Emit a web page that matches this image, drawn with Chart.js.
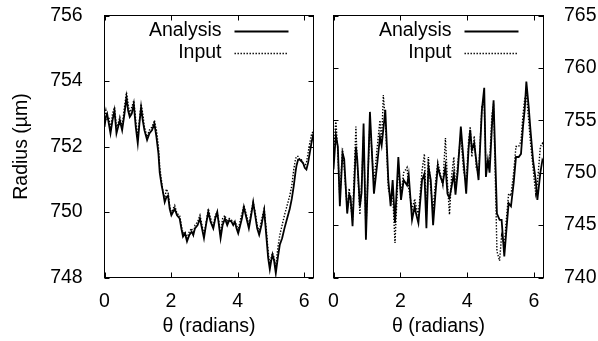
<!DOCTYPE html>
<html><head><meta charset="utf-8">
<script src="https://cdn.jsdelivr.net/npm/chart.js@4/dist/chart.umd.min.js"></script>
<style>
html,body{margin:0;padding:0;background:#fff;}
#wrap{position:relative;width:598px;height:341px;overflow:hidden;}
#c1{position:absolute;left:0;top:0;}
#c2{position:absolute;left:323px;top:0;}
</style></head><body>
<div id="wrap"><canvas id="c1" width="323" height="341"></canvas><canvas id="c2" width="275" height="341"></canvas></div>
<script>
// ---- data ----
const seriesLabels = ["Analysis", "Input"];
const xTickValues = [0, 2, 4, 6];
const leftYTicks = [748, 750, 752, 754, 756];
const rightYTicks = [740, 745, 750, 755, 760, 765];

const thetaLeft = [0.00,0.04,0.08,0.13,0.18,0.24,0.30,0.36,0.41,0.46,0.53,0.60,0.66,0.71,0.76,0.82,0.88,0.94,1.00,1.05,1.10,1.15,1.20,1.28,1.35,1.43,1.50,1.56,1.62,1.66,1.72,1.76,1.81,1.86,1.91,1.96,2.01,2.06,2.11,2.18,2.26,2.31,2.36,2.42,2.48,2.55,2.62,2.67,2.72,2.80,2.87,2.93,2.99,3.05,3.12,3.19,3.27,3.33,3.39,3.44,3.49,3.55,3.62,3.69,3.75,3.82,3.87,3.92,3.97,4.02,4.07,4.13,4.19,4.27,4.34,4.41,4.47,4.53,4.59,4.65,4.72,4.80,4.87,4.92,4.97,5.01,5.05,5.10,5.15,5.21,5.27,5.34,5.41,5.49,5.57,5.63,5.69,5.74,5.77,5.82,5.87,5.92,5.97,6.02,6.07,6.12,6.17,6.22,6.28];
const analysisLeft = [752.6,752.9,753.0,752.7,752.4,752.8,753.1,752.4,752.6,752.8,752.5,753.0,753.5,753.1,752.9,753.0,753.3,752.6,752.1,752.7,753.2,752.8,752.5,752.2,752.4,752.5,752.7,752.3,751.8,751.2,750.8,750.6,750.3,750.45,750.5,750.1,749.9,750.0,750.1,749.9,749.8,749.5,749.25,749.35,749.1,749.3,749.4,749.3,749.5,749.6,749.8,749.5,749.2,749.6,750.0,749.7,749.5,749.8,750.0,749.6,749.2,749.6,749.8,749.6,749.75,749.7,749.6,749.7,749.5,749.35,749.55,749.8,750.15,749.8,749.5,749.9,750.3,749.9,749.5,749.3,749.6,750.05,749.2,748.6,748.25,748.5,748.7,748.5,748.13,748.6,749.0,749.2,749.5,749.8,750.1,750.4,750.8,751.2,751.4,751.6,751.6,751.55,751.5,751.35,751.3,751.5,751.8,752.1,752.4];
const inputLeft = [752.9,753.1,752.8,752.9,752.5,753.0,753.2,752.6,752.7,752.9,752.6,753.2,753.65,753.3,753.0,753.2,753.4,752.8,752.3,752.8,753.3,753.0,752.6,752.3,752.5,752.6,752.8,752.5,752.0,751.4,750.9,750.6,750.4,750.7,750.6,750.2,749.95,750.1,750.2,749.95,749.9,749.6,749.35,749.4,749.2,749.4,749.5,749.3,749.6,749.7,749.9,749.6,749.3,749.65,750.1,749.8,749.55,749.9,750.0,749.7,749.3,749.8,749.9,749.7,749.8,749.75,749.7,749.7,749.6,749.45,749.7,749.95,750.2,749.9,749.6,750.0,750.3,750.0,749.6,749.4,749.75,750.1,749.4,748.8,748.35,748.6,748.75,748.6,748.3,748.9,749.3,749.6,749.9,750.2,750.5,750.8,751.3,751.6,751.7,751.7,751.6,751.6,751.45,751.4,751.5,751.8,752.1,752.35,752.5];

const thetaRight = [0.00,0.07,0.13,0.19,0.27,0.32,0.41,0.47,0.51,0.57,0.67,0.71,0.79,0.84,0.90,0.97,1.09,1.21,1.31,1.39,1.44,1.49,1.55,1.64,1.71,1.77,1.84,1.94,2.02,2.10,2.20,2.25,2.35,2.43,2.47,2.54,2.65,2.72,2.78,2.84,2.91,2.98,3.05,3.12,3.19,3.27,3.35,3.41,3.47,3.53,3.60,3.65,3.72,3.81,3.89,3.97,4.04,4.09,4.14,4.21,4.27,4.34,4.44,4.51,4.56,4.62,4.67,4.74,4.79,4.89,4.97,5.03,5.11,5.17,5.24,5.31,5.39,5.46,5.54,5.61,5.67,5.72,5.77,5.84,5.89,5.97,6.05,6.10,6.19,6.25,6.28];
const analysisRight = [750.3,753.6,752.5,746.8,751.9,751.3,746.1,747.9,747.7,744.9,752.5,751.3,746.8,748.1,754.7,743.6,755.8,748.0,750.9,753.4,752.6,754.1,756.0,749.3,746.8,749.3,745.2,751.5,747.4,749.3,748.8,749.8,745.5,746.8,746.1,745.2,749.3,749.9,744.7,750.6,749.3,745.0,748.0,750.6,749.7,749.0,750.6,748.0,747.6,748.6,749.9,747.9,750.2,754.4,751.2,748.0,752.2,754.1,752.2,752.8,751.2,749.3,756.0,758.1,749.6,751.2,750.0,754.4,756.9,746.1,745.5,745.5,742.0,744.4,747.1,746.8,749.0,751.5,751.5,751.8,754.4,756.0,758.7,756.3,754.2,751.2,749.3,747.4,750.0,751.2,751.0];
const inputRight = [751.5,755.0,752.0,747.5,752.3,750.5,746.5,748.5,747.0,745.5,754.4,751.0,746.0,749.0,753.5,744.5,754.8,749.0,752.5,755.0,753.0,757.4,755.0,748.5,747.5,748.0,743.3,750.5,748.0,750.0,750.5,748.5,746.5,747.5,746.8,746.0,750.2,751.8,746.0,751.5,748.5,746.5,749.0,751.0,750.0,748.8,753.3,749.0,746.0,749.5,751.5,748.5,751.0,753.5,750.2,749.0,753.0,754.4,751.5,753.5,750.5,750.0,756.3,756.5,750.5,750.5,751.0,755.5,756.6,742.5,741.6,744.0,743.0,745.5,748.0,747.8,750.0,752.5,752.5,753.0,755.5,757.0,757.5,755.0,753.0,750.5,748.0,749.0,752.5,752.8,752.5];

// ---- helpers ----
const FONT = '"Liberation Sans", Arial, sans-serif';
const FS = 19.5;
const toPts = (xs, ys) => xs.map((x, i) => ({x: x, y: ys[i]}));

const framePlugin = {
  id: 'gpFrame',
  afterDraw(chart) {
    const ctx = chart.ctx, a = chart.chartArea, L = 5;
    const xs = chart.scales.x, ys = chart.scales.y;
    ctx.save();
    ctx.strokeStyle = '#000'; ctx.lineWidth = 1; ctx.setLineDash([]);
    ctx.beginPath();
    xs.ticks.forEach(t => {
      const px = Math.round(xs.getPixelForValue(t.value)) + 0.5;
      ctx.moveTo(px, a.bottom); ctx.lineTo(px, a.bottom - L);
      ctx.moveTo(px, a.top); ctx.lineTo(px, a.top + L);
    });
    ys.ticks.forEach(t => {
      const py = Math.round(ys.getPixelForValue(t.value)) + 0.5;
      ctx.moveTo(a.left, py); ctx.lineTo(a.left + L, py);
      ctx.moveTo(a.right, py); ctx.lineTo(a.right - L, py);
    });
    ctx.stroke();
    ctx.strokeRect(a.left, a.top, a.right - a.left, a.bottom - a.top);
    // legend (gnuplot style: right-aligned text, sample on the right)
    ctx.font = FS + 'px ' + FONT;
    ctx.textAlign = 'right'; ctx.textBaseline = 'middle';
    chart.data.datasets.forEach((ds, i) => {
      const y = a.top + 15.5 + i * 21.7;
      ctx.fillStyle = '#000';
      ctx.setLineDash([]);
      ctx.fillText(ds.label, a.right - 92, y);
      ctx.beginPath();
      ctx.setLineDash(ds.borderDash || []);
      ctx.lineWidth = ds.borderWidth;
      ctx.strokeStyle = ds.borderColor;
      ctx.moveTo(a.right - 79, Math.round(y) + 0.5);
      ctx.lineTo(a.right - 25, Math.round(y) + 0.5);
      ctx.stroke();
    });
    ctx.restore();
  }
};

function makeDatasets(th, an, inp) {
  return [
    {label: seriesLabels[0], data: toPts(th, an), borderColor: '#000', borderWidth: 1.8, pointRadius: 0, tension: 0, fill: false},
    {label: seriesLabels[1], data: toPts(th, inp), borderColor: '#000', borderWidth: 1.4, borderDash: [1.4, 1.6], pointRadius: 0, tension: 0, fill: false}
  ];
}

function xScale() {
  return {
    type: 'linear', min: 0, max: 2 * Math.PI,
    afterBuildTicks: s => { s.ticks = xTickValues.map(v => ({value: v})); },
    ticks: {color: '#000', font: {family: FONT, size: FS}, padding: 4, maxRotation: 0, autoSkip: false, callback: v => String(v)},
    grid: {display: false}, border: {display: false},
    title: {display: true, text: 'θ (radians)', color: '#000', font: {family: FONT, size: FS}, padding: {top: 0, bottom: 2.3}},
    afterFit: s => { s.height = 341 - 277.5; s.paddingLeft = 0; s.paddingRight = 0; }
  };
}

new Chart(document.getElementById('c1'), {
  type: 'line',
  data: {datasets: makeDatasets(thetaLeft, analysisLeft, inputLeft)},
  options: {
    responsive: false, animation: false, devicePixelRatio: 1,
    layout: {padding: {left: 0, right: 323 - 313.5, top: 15.5, bottom: 0}},
    plugins: {legend: {display: false}, tooltip: {enabled: false}},
    scales: {
      x: xScale(),
      y: {
        type: 'linear', min: 748, max: 756,
        afterBuildTicks: s => { s.ticks = leftYTicks.map(v => ({value: v})); },
        ticks: {color: '#000', font: {family: FONT, size: FS}, padding: 13.8},
        grid: {display: false}, border: {display: false},
        title: {display: true, text: 'Radius (µm)', color: '#000', font: {family: FONT, size: FS}, padding: {top: 9.8, bottom: 0}},
        afterFit: s => { s.width = 104.5; s.paddingTop = 0; s.paddingBottom = 0; }
      }
    }
  },
  plugins: [framePlugin]
});

new Chart(document.getElementById('c2'), {
  type: 'line',
  data: {datasets: makeDatasets(thetaRight, analysisRight, inputRight)},
  options: {
    responsive: false, animation: false, devicePixelRatio: 1,
    layout: {padding: {left: 333.5 - 323, right: 0, top: 15.5, bottom: 0}},
    plugins: {legend: {display: false}, tooltip: {enabled: false}},
    scales: {
      x: xScale(),
      y: {
        type: 'linear', position: 'right', min: 740, max: 765,
        afterBuildTicks: s => { s.ticks = rightYTicks.map(v => ({value: v})); },
        ticks: {color: '#000', font: {family: FONT, size: FS}, padding: 12.5},
        grid: {display: false}, border: {display: false},
        afterFit: s => { s.width = 275 - (543.5 - 323); s.paddingTop = 0; s.paddingBottom = 0; }
      }
    }
  },
  plugins: [framePlugin]
});
</script>
</body></html>
